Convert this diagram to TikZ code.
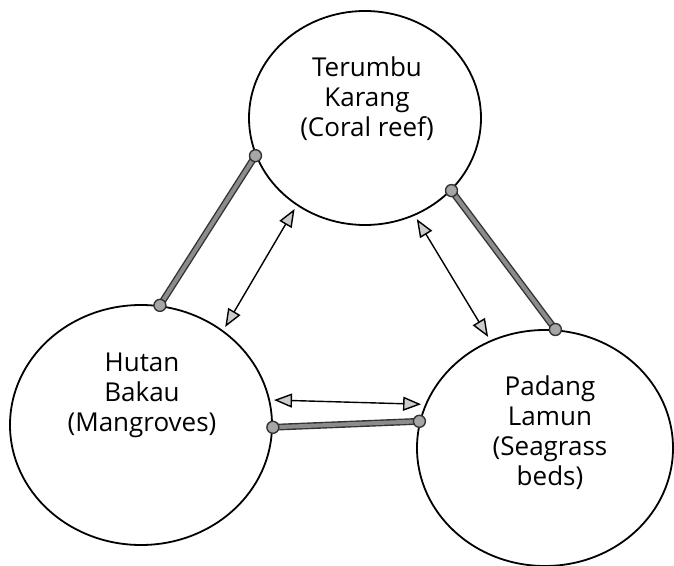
\documentclass[tikz,border=0pt]{standalone}
\usepackage{fontspec}
\setmainfont{Open Sans}
\usetikzlibrary{arrows.meta,shapes.geometric}
\tikzset{
	habitat/.style={draw, ellipse, line width=0.9pt, inner sep=0pt},
	habtext/.style={align=center, font=\fontsize{13}{15}\selectfont},
	link/.style={line width=0.7pt, draw=black!80, double=black!45, double distance=2pt},
	linkend/.style={circle, draw=black!80, fill=black!35, line width=0.7pt, minimum size=6pt, inner sep=0pt},
	flow/.style={line width=0.7pt, {Triangle[length=9pt,width=7pt,fill=black!20]}-{Triangle[length=9pt,width=7pt,fill=black!20]}, shorten <=2pt, shorten >=2pt}
}

\begin{document}
\begin{tikzpicture}[x=0.5pt, y=-0.5pt]
		%%%%% START %%%%%
		\useasboundingbox (0,0) rectangle (674,566);
		
		% the three habitats
		\node[habitat, minimum width=116pt, minimum height=107pt] (reef) at (365,118) {};
		\node[habitat, minimum width=131pt, minimum height=120pt] (mangrove) at (141,425) {};
		\node[habitat, minimum width=128pt, minimum height=118pt] (seagrass) at (545,448) {};
		
		\node[habtext] (reeftext) at (367,99) {Terumbu\\Karang\\(Coral reef)};
		\node[habtext] (mangrovetext) at (142,395) {Hutan\\Bakau\\(Mangroves)};
		\node[habtext] (seagrasstext) at (550,433) {Padang\\Lamun\\(Seagrass\\beds)};
		
		% physical links
		\draw[link] (reef.199) -- (mangrove.81);
		\draw[link] (reef.320) -- (seagrass.85);
		\draw[link] (mangrove.-1) -- (seagrass.168);
		
		\node[linkend] (rm1) at (reef.199) {};
		\node[linkend] (rm2) at (mangrove.81) {};
		\node[linkend] (rs1) at (reef.320) {};
		\node[linkend] (rs2) at (seagrass.85) {};
		\node[linkend] (ms1) at (mangrove.-1) {};
		\node[linkend] (ms2) at (seagrass.168) {};
		
		% exchanges
		\draw[flow] (mangrove.49) -- (reef.232);
		\draw[flow] (reef.297) -- (seagrass.117);
		\draw[flow] (mangrove.11) -- (seagrass.160);
		
		%%%%% END %%%%%
\end{tikzpicture}
\end{document}
